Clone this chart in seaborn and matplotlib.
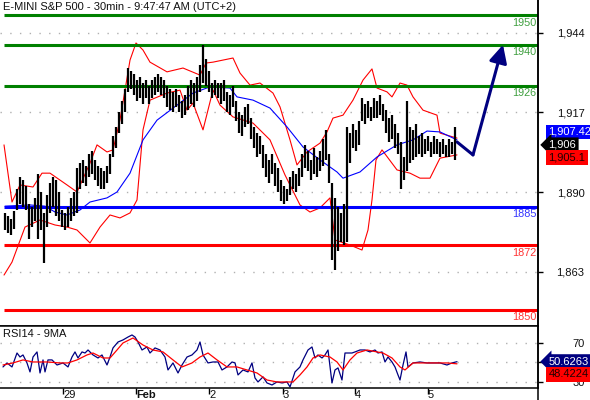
import numpy as np
import matplotlib
matplotlib.use('Agg')
import matplotlib.pyplot as plt
from matplotlib.lines import Line2D
import seaborn as sns

sns.set_theme(style='white')
plt.rcParams['font.family'] = ['Liberation Sans', 'DejaVu Sans']

# ---------------- data (hourly bars, index = bar number) ----------------
bar_hi = [1883, 1882, 1881, 1883.5, 1891, 1895, 1894, 1892, 1886, 1885,
          1888, 1896, 1890, 1883, 1889, 1893, 1895, 1894, 1890, 1884,
          1883, 1885, 1888, 1890, 1898, 1900, 1901, 1899, 1903, 1904,
          1901, 1899, 1898, 1897, 1899, 1903, 1909, 1912, 1917, 1921,
          1925, 1932, 1931, 1930, 1928, 1929, 1927, 1928, 1926, 1928,
          1929, 1930, 1929, 1928, 1926, 1925, 1924, 1925, 1923, 1921,
          1923, 1926, 1928, 1927, 1929, 1933, 1940, 1935, 1931, 1927,
          1928, 1927, 1927, 1928, 1924, 1923, 1926, 1921, 1917, 1916,
          1919, 1920, 1915, 1912, 1910, 1909, 1906, 1903, 1901, 1903,
          1900, 1898, 1894, 1892, 1891, 1895, 1897, 1896, 1898, 1903,
          1906, 1904, 1901, 1905, 1902, 1904, 1908, 1911, 1903, 1893,
          1888, 1885, 1883, 1886, 1912, 1910, 1913, 1911, 1914, 1922,
          1920, 1921, 1919, 1922, 1921, 1923, 1920, 1918, 1915, 1916,
          1913, 1910, 1907, 1902, 1921, 1912, 1911, 1913, 1909, 1910,
          1908, 1909, 1907, 1909, 1908, 1907, 1908, 1906, 1908, 1907,
          1912]
bar_lo = [1877, 1876, 1875.5, 1877.5, 1884, 1886, 1885, 1884, 1874, 1878,
          1880, 1874, 1877, 1866, 1878, 1883, 1885, 1882, 1880, 1878,
          1877, 1878, 1880, 1882, 1883, 1891, 1893, 1892, 1895, 1896,
          1894, 1892, 1891, 1891, 1893, 1896, 1902, 1905, 1910, 1913,
          1917, 1924, 1925, 1923, 1921, 1922, 1920, 1922, 1920, 1922,
          1923, 1924, 1923, 1922, 1919, 1918, 1917, 1919, 1917, 1915,
          1916, 1918, 1920, 1919, 1921, 1924, 1927, 1926, 1924, 1922,
          1923, 1922, 1920, 1921, 1917, 1916, 1919, 1914, 1910, 1909,
          1912, 1913, 1908, 1905, 1902, 1903, 1898, 1895, 1893, 1896,
          1892, 1890, 1887, 1886, 1887, 1889, 1891, 1890, 1892, 1895,
          1898, 1897, 1894, 1896, 1895, 1897, 1899, 1901, 1893, 1867,
          1863.5, 1870, 1873, 1872, 1873, 1900, 1905, 1904, 1906, 1914,
          1913, 1915, 1914, 1915, 1915, 1916, 1914, 1910, 1907, 1908,
          1905, 1903, 1891, 1894, 1897, 1900, 1901, 1902, 1903, 1902,
          1903, 1904, 1902, 1903, 1903, 1902, 1903, 1902, 1902, 1903,
          1901]

# bollinger bands (red) and moving average (blue)
upper_x = [-0.33, 2.33, 5, 9.33, 12.33, 15, 20.67, 24, 28.33, 30.67, 34, 36, 38.33, 40,
           41.67, 43.67, 46, 48.33, 54, 59.33, 65, 67, 69.33, 76, 78.33, 81.67, 85,
           89.33, 91.67, 95, 97.33, 100.67, 105, 107.33, 109.33, 112.67, 116, 119.33,
           122.33, 124, 127.33, 129, 131.67, 134, 136, 139.33, 144, 145, 150.67]
upper_y = [1906.0, 1886.6, 1892.4, 1891.7, 1896.4, 1896.4, 1892.4, 1890.0, 1899.8, 1906.0,
           1903.6, 1904.3, 1914.5, 1924.6, 1934.8, 1940.6, 1938.2, 1934.1, 1930.8, 1932.1,
           1929.7, 1933.8, 1934.1, 1935.5, 1930.4, 1926.3, 1927.0, 1923.6, 1918.9, 1907.7,
           1899.2, 1903.6, 1906.6, 1910.4, 1915.1, 1916.1, 1921.2, 1928.0, 1931.8, 1925.3,
           1924.0, 1922.3, 1927.0, 1926.3, 1922.3, 1917.8, 1916.1, 1910.0, 1908.3]
lower_x = [-0.33, 2.33, 6.67, 11.67, 16.67, 20.67, 24, 28.33, 31.67, 35, 38.33, 41.67,
           44, 46, 48.33, 54, 58.33, 60.67, 62.67, 66, 69.33, 71.67, 76, 82.67, 88.33,
           93.33, 98.33, 101.67, 105, 108.33, 110, 115, 119, 121, 122.33, 123.67, 125.67,
           130.67, 135, 138.33, 141.67, 145, 150.67]
lower_y = [1861.8, 1866.2, 1878.1, 1880.5, 1878.8, 1878.1, 1877.1, 1872.7, 1878.1, 1882.2,
           1881.2, 1882.9, 1887.3, 1911.1, 1921.2, 1923.6, 1924.6, 1917.8, 1920.2, 1911.1,
           1924.6, 1919.5, 1915.5, 1913.4, 1907.7, 1895.8, 1885.6, 1883.2, 1884.6, 1888.0,
           1873.7, 1872.0, 1870.3, 1877.1, 1887.3, 1900.9, 1904.3, 1897.5, 1896.4, 1894.7,
           1894.7, 1901.5, 1902.6]
ma_x = [0, 8.33, 13.33, 16.67, 20.67, 25, 28.33, 34, 37.33, 41.67, 46, 50.67, 57.33,
        62.67, 68.33, 75, 77.33, 82.67, 88.33, 94, 99.33, 105, 110.67, 112.67, 118.33,
        124, 130.67, 136, 140.67, 145, 150.67]
ma_y = [1885.2, 1885.6, 1885.2, 1883.2, 1882.2, 1883.9, 1886.6, 1888.0, 1890.0, 1896.4,
        1907.7, 1914.4, 1919.5, 1923.6, 1925.7, 1925.3, 1922.3, 1921.2, 1918.5, 1912.1,
        1905.3, 1900.9, 1896.8, 1894.7, 1896.8, 1901.9, 1906.0, 1907.7, 1910.7, 1910.4,
        1907.7]

# projected path (navy arrow)
proj_x = [150.67, 156, 166]
proj_y = [1907.0, 1902.6, 1940.0]

levels = [1950, 1940, 1926, 1885, 1872, 1850]
level_colors = ['#008000', '#008000', '#008000', '#0000ff', '#ff0000', '#ff0000']
level_text = ['#3f9f3f', '#3f9f3f', '#3f9f3f', '#3333ff', '#ff3333', '#ff3333']

last_close = 1906
ma_last = 1907.42
band_last = 1905.1

# RSI14 and its 9 period MA
rsi_x = [-0.67, 0.67, 2.33, 4, 5, 6, 7.33, 8.33, 9.33, 10.67, 11.67, 12.67, 13.33, 14.33,
         15.67, 17.33, 19.33, 21, 22.33, 23.33, 24.33, 25.67, 26.67, 27.67, 29.33, 31,
         32.33, 34, 35, 36, 37.67, 39.33, 41, 42.33, 43.33, 44.33, 45.67, 47.33, 48.33,
         50, 51.67, 53.33, 54.33, 56, 57.67, 59, 60.67, 62.33, 64, 65, 66, 67.67, 69.33,
         71, 72.33, 74, 75.67, 76.67, 77.67, 79.33, 81, 82.33, 83.33, 84.33, 86, 87.33,
         89, 90.67, 92.33, 94, 95, 96, 96.67, 98.33, 99.33, 101, 102.33, 103.33, 104.33,
         105.67, 106.67, 107.67, 109, 110, 111, 112.33, 113.33, 114.33, 115.67, 116.67,
         118.33, 120, 121.67, 123.33, 124.33, 125.67, 126.67, 127.67, 129, 130, 131,
         131.67, 132.67, 133.67, 134.33, 136, 138.33, 140.67, 142.67, 145, 147.33, 149,
         150.67]
rsi_y = [45.2, 49.3, 45.2, 59.5, 55.4, 57.5, 49.3, 40.1, 55.4, 60.6, 39.0, 52.4, 40.1, 52.4,
         52.4, 47.2, 49.3, 45.2, 55.4, 60.6, 54.4, 60.6, 59.5, 62.6, 57.5, 54.4,
         57.5, 47.2, 55.4, 64.7, 70.8, 72.9, 75.9, 78.0, 75.9, 70.8, 62.6, 65.7, 59.5,
         64.7, 62.6, 55.4, 42.1, 49.3, 39.0, 47.2, 55.4, 57.5, 62.6, 70.8, 57.5, 49.3, 50.3,
         50.3, 42.1, 45.2, 50.3, 49.3, 37.0, 42.1, 40.1, 49.3, 33.9, 29.8, 35.0, 28.8,
         26.7, 29.8, 28.8, 29.8, 24.7, 33.9, 40.1, 45.2, 52.4, 62.6, 65.7, 54.4, 57.5,
         54.4, 57.5, 62.6, 28.8, 42.1, 44.2, 31.8, 59.5, 59.5, 59.5, 60.6,
         62.6, 62.6, 60.6, 62.6, 59.5, 60.6, 50.3, 55.4, 50.3, 45.2, 37.0,
         31.8, 47.2, 60.6, 45.2, 49.3, 50.3, 49.3, 49.3, 49.3, 47.2, 49.3,
         50.6]
rsi_ma_x = [-0.67, 2.67, 6, 9.33, 14, 18.33, 21, 24, 27.33, 29.33, 32.67, 35, 37.33, 39.33,
            42.67, 46, 49.33, 52.67, 56, 59, 62.33, 65, 67.67, 70.67, 74, 77.33, 80.67, 84,
            87.33, 90.67, 94, 96, 98.33, 100.67, 102.67, 105, 108.33, 110.67, 112.67, 115,
            117.33, 120.67, 124, 126, 129, 131.67, 133.33, 136, 139.33, 142.67, 147.33,
            150.67]
rsi_ma_y = [47.2, 49.3, 52.4, 50.3, 50.3, 49.3, 49.3, 52.4, 57.5, 59.5, 54.4, 54.4, 62.6, 69.8,
            74.9, 67.7, 62.6, 60.6, 52.4, 45.2, 49.3, 55.4, 59.5, 52.4, 45.2, 45.2, 42.1, 39.0,
            31.8, 29.8, 29.8, 29.8, 37.0, 45.2, 54.4, 57.5, 55.4, 50.3, 42.1, 52.4,
            59.5, 62.6, 60.6, 59.5, 54.4, 45.2, 42.1, 49.3, 49.3, 49.3, 49.3,
            48.4]
rsi_last = 50.6263
rsi_ma_last = 48.4224

day_ticks = [19.33, 43.67, 68, 92.67, 116.67, 141]
day_labels = ['29', 'Feb', '2', '3', '4', '5']

# ---------------- figure ----------------
W, H = 590, 400
fig = plt.figure(figsize=(W / 100, H / 100), dpi=100)
ax = fig.add_axes([0, 1 - 326 / H, 538 / W, 326 / H])
ax_rsi = fig.add_axes([0, 12 / H, 538 / W, 62 / H])
xlim = (-1.67, 177.67)

# price bars
bars_x = np.arange(len(bar_hi))
ax.vlines(bars_x, bar_lo, bar_hi, color='black', lw=1.6, zorder=3)

sns.lineplot(x=upper_x, y=upper_y, ax=ax, color='#ff0000', lw=0.8, estimator=None, sort=False)
sns.lineplot(x=lower_x, y=lower_y, ax=ax, color='#ff0000', lw=0.8, estimator=None, sort=False)
sns.lineplot(x=ma_x, y=ma_y, ax=ax, color='#0000ff', lw=0.8, estimator=None, sort=False)

# level lines and their labels
ax.hlines(levels, -0.33, xlim[1], colors=level_colors, lw=2.2, zorder=2)
for lv, c in zip(levels, level_text):
    ax.annotate(str(lv), xy=(1, lv), xycoords=('axes fraction', 'data'),
                xytext=(-1, -1.8), textcoords='offset points', ha='right', va='top',
                fontsize=7.8, color=c)

# projection
sns.lineplot(x=proj_x[:2], y=proj_y[:2], ax=ax, color='#000080', lw=2.2, estimator=None, sort=False)
ax.annotate('', xy=(proj_x[2], proj_y[2]), xytext=(proj_x[1], proj_y[1]),
            arrowprops=dict(arrowstyle='-|>,head_length=0.9,head_width=0.45', color='#000080',
                            lw=2.2, shrinkA=0, shrinkB=0))

ax.set_xlim(*xlim)
ax.set_ylim(1844.5, 1955.2)
ax.set_yticks([1863, 1890, 1917, 1944])
ax.set_yticklabels([f'{v:,}' for v in [1863, 1890, 1917, 1944]])
ax.yaxis.tick_right()
ax.set_xticks([])
ax.yaxis.grid(True, linestyle=(0, (1, 6)), color='#b0b0b0', lw=1)
ax.set_axisbelow(True)

# RSI panel
sns.lineplot(x=rsi_x, y=rsi_y, ax=ax_rsi, color='#000080', lw=0.9, estimator=None, sort=False)
sns.lineplot(x=rsi_ma_x, y=rsi_ma_y, ax=ax_rsi, color='#ff0000', lw=0.9, estimator=None, sort=False)
ax_rsi.set_xlim(*xlim)
ax_rsi.set_ylim(23.6, 87.2)
ax_rsi.set_yticks([30, 50, 70])
ax_rsi.set_yticklabels(['30', '', '70'])  # 50 sits under the value box
ax_rsi.yaxis.tick_right()
ax_rsi.yaxis.grid(True, linestyle=(0, (1, 6)), color='#b0b0b0', lw=1)
ax_rsi.set_axisbelow(True)
ax_rsi.set_xticks(day_ticks)
ax_rsi.set_xticklabels(day_labels)
for lbl in ax_rsi.get_xticklabels():
    lbl.set_ha('left')
    if lbl.get_text() == 'Feb':
        lbl.set_fontweight('bold')

for a in (ax, ax_rsi):
    a.set_xlabel('')
    a.set_ylabel('')
    a.spines['left'].set_visible(False)
    for s in ('right', 'bottom', 'top'):
        a.spines[s].set_color('black')
        a.spines[s].set_linewidth(1.1)
    a.tick_params(axis='y', which='both', right=True, left=False, length=3.5, width=1,
                  color='black', direction='out', pad=30, labelsize=8, labelcolor='#111111')
    for lbl in a.get_yticklabels():
        lbl.set_ha('right')
ax.spines['top'].set_visible(False)
ax_rsi.tick_params(axis='x', bottom=True, length=4.5, width=1, color='black',
                   direction='out', pad=-2.8, labelsize=8, labelcolor='#111111')

# value boxes on the right axis
box_kw = dict(xycoords=('axes fraction', 'data'), textcoords='offset points',
              va='center', ha='left', fontsize=8, annotation_clip=False, zorder=10)
ax.annotate(f'{ma_last:,.2f}', xy=(1, last_close), xytext=(7.5, 9.3), color='white',
            bbox=dict(boxstyle='square,pad=0.22', fc='#0000ff', ec='none'), **box_kw)
ax.annotate(f'{last_close:,}', xy=(1, last_close), xytext=(7.5, 0), color='white',
            bbox=dict(boxstyle='larrow,pad=0.22', fc='black', ec='none'), **box_kw)
ax.annotate(f'{band_last:,.1f}', xy=(1, last_close), xytext=(7.5, -9.3), color='#200000',
            bbox=dict(boxstyle='square,pad=0.22', fc='#ff0000', ec='none'), **box_kw)
ax_rsi.annotate(f'{rsi_last:.4f}', xy=(1, rsi_last), xytext=(7.5, 0), color='white',
                bbox=dict(boxstyle='larrow,pad=0.22', fc='#000080', ec='none'), **box_kw)
ax_rsi.annotate(f'{rsi_ma_last:.4f}', xy=(1, rsi_last), xytext=(7.5, -9), color='#200000',
                bbox=dict(boxstyle='square,pad=0.22', fc='#ff0000', ec='none'), **box_kw)

# texts
fig.text(3 / W, 1 - 7 / H, 'E-MINI S&P 500 - 30min - 9:47:47 AM (UTC+2)', fontsize=8,
         va='center', ha='left', color='#111111')
ax_rsi.text(3 / 538, (388 - 334) / 62, 'RSI14 - 9MA', transform=ax_rsi.transAxes,
            fontsize=8, va='center', ha='left', color='#111111')

fig.add_artist(Line2D([538 / W, 538 / W], [0, 1], color='black', lw=1.1))

fig.savefig('out.png', dpi=100)
